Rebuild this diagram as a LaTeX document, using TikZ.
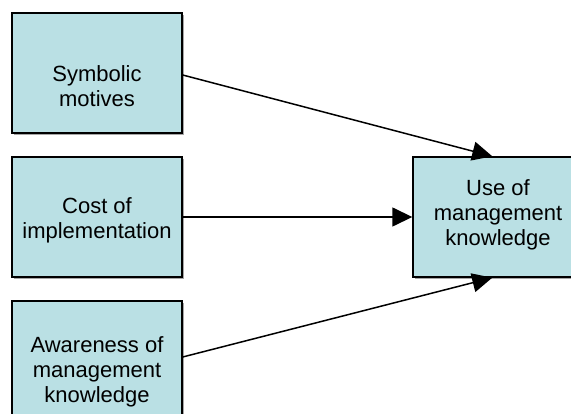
\documentclass[tikz,border=0pt]{standalone}
\usepackage{fontspec}
\setmainfont{Liberation Sans}
\usetikzlibrary{arrows.meta,shadows,calc}
\definecolor{boxfill}{RGB}{186,224,228}
\begin{document}
\begin{tikzpicture}[x=1pt,y=-1pt,
  factor/.style={draw=black,line width=1.4pt,fill=boxfill,
    minimum width=170pt,minimum height=120pt,inner sep=0pt,
    drop shadow={shadow xshift=2pt,shadow yshift=-2pt,fill=gray!70,opacity=1}},
  caption/.style={inner sep=0pt,align=center,
    font=\fontsize{22pt}{25pt}\selectfont},
  link/.style={line width=1.5pt,-{Triangle[length=20pt,width=19pt]}}]
  \useasboundingbox (0,0) rectangle (571,414);
  % boxes
  \node[factor] (sym) at (97,73) {};
  \node[factor] (cost) at (97,217) {};
  \node[factor] (aware) at (97,361) {};
  \node[factor] (use) at (498,217) {};
  % box texts
  \node[caption] (symT) at ($(sym.center)+(0,13)$) {Symbolic\\motives};
  \node[caption] (costT) at ($(cost.center)+(0,3)$) {Cost of\\implementation};
  \node[caption] (awareT) at ($(aware.center)+(0,11)$) {Awareness of\\management\\knowledge};
  \node[caption] (useT) at ($(use.center)+(0,-2)$) {Use of\\management\\knowledge};
  % connectors
  \coordinate (inTop) at ($(use.north west)+(80,0)$);
  \coordinate (inBot) at ($(use.south west)+(80,0)$);
  \draw[link] ($(sym.east)+(0,2)$) -- (inTop);
  \draw[link] (cost.east) -- (use.west);
  \draw[link] ($(aware.east)+(0,-4)$) -- (inBot);
\end{tikzpicture}
\end{document}
